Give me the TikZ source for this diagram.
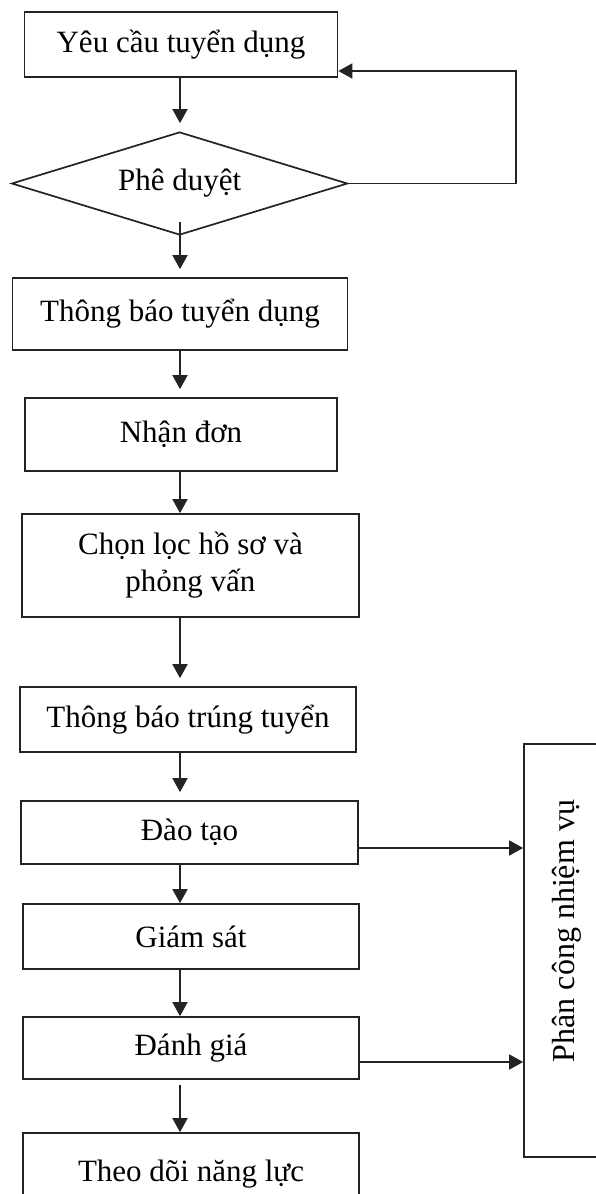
\documentclass[tikz,border=0pt]{standalone}
\usepackage{fontspec}
\setmainfont{Liberation Serif}
\usetikzlibrary{shapes.geometric,arrows.meta}
\definecolor{ink}{RGB}{35,35,35}

\tikzset{every picture/.style={line width=1.7pt}}
\tikzset{
  stepbox/.style={draw=ink, rectangle, inner sep=0pt, align=center, font=\fontsize{31}{37}\selectfont},
  decision/.style={draw=ink, diamond, aspect=3.26, inner sep=0pt, minimum width=336pt, minimum height=103pt, font=\fontsize{31}{37}\selectfont},
  sidebox/.style={draw=ink, rectangle, inner sep=0pt},
  flow/.style={draw=ink, -{Triangle[width=15pt,length=14pt,fill=ink]}},
  loose/.style={shorten >=8pt},
}

\begin{document}
\begin{tikzpicture}[x=1pt,y=1pt,yscale=-1,xscale=1]
		\useasboundingbox (0,0) rectangle (596,1194);
		\clip (0,0) rectangle (596,1194);
		
		%Flowchart: Process
		\node[stepbox, minimum width=313pt, minimum height=65pt] (yeucau) at (181,44.5) {Yêu cầu tuyển dụng};
		%Flowchart: Decision
		\node[decision] (pheduyet) at (179.6,183.5) {Phê duyệt};
		%Flowchart: Process
		\node[stepbox, minimum width=335pt, minimum height=72pt] (thongbao) at (180,314) {Thông báo tuyển dụng};
		\node[stepbox, minimum width=312pt, minimum height=73pt] (nhandon) at (181,434.5) {Nhận đơn};
		\node[stepbox, minimum width=337pt, minimum height=103pt] (chonloc) at (190.5,565.5) {Chọn lọc hồ sơ và\\ phỏng vấn};
		\node[stepbox, minimum width=336pt, minimum height=65pt] (trungtuyen) at (188,719.5) {Thông báo trúng tuyển};
		\node[stepbox, minimum width=337pt, minimum height=63pt] (daotao) at (189.5,832.5) {Đào tạo};
		\node[stepbox, minimum width=336pt, minimum height=65pt] (giamsat) at (191,936.5) {Giám sát};
		\node[stepbox, minimum width=336pt, minimum height=62pt] (danhgia) at (191,1048) {Đánh giá};
		\node[stepbox, minimum width=336pt, minimum height=82pt] (theodoi) at (191,1174) {Theo dõi năng lực};
		
		%Side box
		\node[sidebox, minimum width=88pt, minimum height=413pt] (phancong) at (568,950.5) {};
		\node[rotate=90, font=\fontsize{32}{37}\selectfont] (phancongtext) at (567,931) {Phân công nhiệm vụ};
		
		%Straight Lines
		\coordinate (spine) at (180,0);
		\draw[flow, loose] (yeucau.south -| spine) -- (pheduyet.north -| spine);
		\draw[flow, loose] (spine |- 0,222) -- (thongbao.north -| spine);
		\draw[flow, loose] (thongbao.south -| spine) -- (nhandon.north -| spine);
		\draw[flow] (nhandon.south -| spine) -- (chonloc.north -| spine);
		\draw[flow, loose] (chonloc.south -| spine) -- (trungtuyen.north -| spine);
		\draw[flow, loose] (trungtuyen.south -| spine) -- (daotao.north -| spine);
		\draw[flow] (daotao.south -| spine) -- (giamsat.north -| spine);
		\draw[flow] (giamsat.south -| spine) -- (danhgia.north -| spine);
		\draw[flow] (spine |- 0,1085) -- (theodoi.north -| spine);
		
		%Feedback loop
		\coordinate (back) at (516,71);
		\draw[flow] (pheduyet.east) -| (back) -- (back -| yeucau.east);
		
		%Straight Lines to side box
		\draw[flow] (daotao.east |- 0,848) -- (phancong.west |- 0,848);
		\draw[flow] (danhgia.east |- 0,1062) -- (phancong.west |- 0,1062);
		
\end{tikzpicture}
\end{document}
